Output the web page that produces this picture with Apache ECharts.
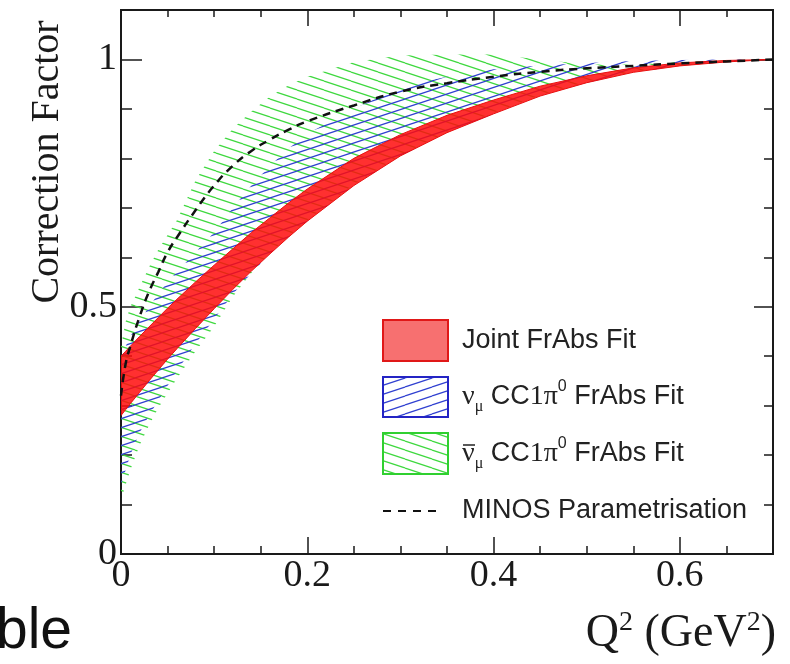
<!DOCTYPE html>
<html>
<head>
  <meta charset="UTF-8">
  <title>Correction Factor</title>
  <script src="https://cdn.jsdelivr.net/npm/echarts@6/dist/echarts.min.js"></script>
  <style>
    html, body { margin: 0; padding: 0; background: #fff; }
    #chart { width: 790px; height: 664px; }
  </style>
</head>
<body>
  <div id="chart"></div>
  <script>
    // Q2 grid shared by all curves
    const q = [0, 0.005, 0.01, 0.02, 0.03, 0.04, 0.05, 0.06, 0.08, 0.1, 0.12, 0.14, 0.16, 0.18, 0.2, 0.25, 0.3, 0.35, 0.4, 0.45, 0.5, 0.55, 0.6, 0.65, 0.7]

    const minos = [0.32, 0.385, 0.42, 0.48, 0.53, 0.57, 0.61, 0.64, 0.695, 0.745, 0.785, 0.815, 0.838, 0.858, 0.875, 0.907, 0.935, 0.952, 0.965, 0.975, 0.982, 0.987, 0.992, 0.996, 1.0]

    const jointLo = [0.28, 0.292, 0.304, 0.327, 0.35, 0.372, 0.394, 0.415, 0.456, 0.496, 0.535, 0.572, 0.607, 0.641, 0.673, 0.745, 0.805, 0.852, 0.89, 0.926, 0.953, 0.974, 0.987, 0.995, 1.0]
    const jointHi = [0.40, 0.41, 0.42, 0.44, 0.459, 0.478, 0.497, 0.515, 0.55, 0.584, 0.617, 0.65, 0.68, 0.71, 0.738, 0.80, 0.848, 0.887, 0.918, 0.946, 0.967, 0.983, 0.993, 0.998, 1.0]

    const numuLo = [0.14, 0.17, 0.2, 0.245, 0.28, 0.31, 0.34, 0.37, 0.425, 0.475, 0.525, 0.568, 0.607, 0.641, 0.673, 0.745, 0.805, 0.852, 0.89, 0.926, 0.953, 0.974, 0.987, 0.995, 1.0]
    const numuHi = [0.40, 0.42, 0.44, 0.47, 0.50, 0.525, 0.55, 0.57, 0.61, 0.65, 0.70, 0.745, 0.785, 0.82, 0.85, 0.90, 0.945, 0.965, 0.98, 0.988, 0.993, 0.997, 0.999, 1.0, 1.0]

    const nubarLo = [0.11, 0.14, 0.17, 0.22, 0.26, 0.295, 0.325, 0.355, 0.41, 0.46, 0.52, 0.568, 0.609, 0.643, 0.675, 0.747, 0.807, 0.854, 0.892, 0.928, 0.955, 0.975, 0.988, 0.996, 1.0]
    const nubarHi = [0.42, 0.47, 0.50, 0.54, 0.58, 0.615, 0.645, 0.675, 0.755, 0.815, 0.86, 0.895, 0.925, 0.948, 0.965, 0.995, 1.008, 1.01, 1.01, 1.0, 0.99, 0.99, 0.995, 0.998, 1.0]

    const xTicks = [0, 0.2, 0.4, 0.6]
    const yTicks = [0, 0.5, 1]

    function hatch(color, dir) {
      const c = document.createElement('canvas')
      c.width = 27
      c.height = 9
      const ctx = c.getContext('2d')
      ctx.strokeStyle = color
      ctx.lineWidth = 1.2
      for (let k = -1; k <= 1; k++) {
        ctx.beginPath()
        if (dir > 0) { ctx.moveTo(0, 9 + k * 9); ctx.lineTo(27, k * 9) }
        else { ctx.moveTo(0, k * 9); ctx.lineTo(27, 9 + k * 9) }
        ctx.stroke()
      }
      return { image: c, repeat: 'repeat' }
    }

    const bluePat = hatch('#2f3fd0', 1)
    const greenPat = hatch('#3ed83e', -1)

    // band between lo and hi, drawn as one polygon through the axes
    function band(name, lo, hi, fill, z, edge) {
      return {
        name: name, type: 'custom', xAxisIndex: 0, yAxisIndex: 0, z: z, silent: true, clip: true,
        data: [[q[0], lo[0]]],
        renderItem: (params, api) => {
          const top = q.map((x, i) => api.coord([x, hi[i]]))
          const bot = q.map((x, i) => api.coord([x, lo[i]])).reverse()
          return {
            type: 'polygon',
            shape: { points: top.concat(bot) },
            style: { fill: fill, stroke: edge || 'none', lineWidth: edge ? 1 : 0 }
          }
        }
      }
    }

    const serif = 'Liberation Serif'
    const sans = 'Liberation Sans'
    const black = '#1a1a1a'

    function xAx(grid, pos, interval, len, labels) {
      return {
        gridIndex: grid, type: 'value', position: pos, min: 0, max: 0.7, interval: interval,
        axisLine: { show: true, onZero: false, lineStyle: { color: black, width: 2 } },
        axisTick: { show: true, inside: true, length: len, lineStyle: { color: black, width: 1.5 } },
        axisLabel: {
          show: labels, showMaxLabel: false, margin: 3, fontFamily: serif, fontSize: 38, color: black,
          formatter: v => xTicks.includes(+v.toFixed(2)) ? String(+v.toFixed(2)) : ''
        },
        splitLine: { show: false }
      }
    }

    function yAx(grid, pos, interval, len, labels) {
      return {
        gridIndex: grid, type: 'value', position: pos, min: 0, max: 1.1, interval: interval,
        axisLine: { show: true, onZero: false, lineStyle: { color: black, width: 2 } },
        axisTick: { show: true, inside: true, length: len, lineStyle: { color: black, width: 1.5 } },
        axisLabel: {
          show: labels, showMaxLabel: false, margin: 4, fontFamily: serif, fontSize: 38, color: black,
          formatter: v => yTicks.includes(+v.toFixed(2)) ? String(+v.toFixed(2)) : ''
        },
        splitLine: { show: false }
      }
    }

    const chart = echarts.init(document.getElementById('chart'))
    const gridBox = { left: 121, right: 17, top: 10, bottom: 110 }

    const nuRich = {
      g: { fontFamily: serif, fontSize: 28, fill: '#222' },
      s: { fontFamily: serif, fontSize: 16, fill: '#222', verticalAlign: 'bottom' },
      p: { fontFamily: sans, fontSize: 16, fill: '#222', verticalAlign: 'top' }
    }

    const option = {
      animation: false,
      backgroundColor: '#fff',
      grid: [Object.assign({}, gridBox), Object.assign({}, gridBox)],
      xAxis: [
        xAx(0, 'bottom', 0.2, 17, true),
        xAx(0, 'top', 0.2, 16, false),
        xAx(1, 'bottom', 0.05, 8, false),
        xAx(1, 'top', 0.05, 7, false)
      ],
      yAxis: [
        yAx(0, 'left', 0.5, 21, true),
        yAx(0, 'right', 0.5, 19, false),
        yAx(1, 'left', 0.1, 11, false),
        yAx(1, 'right', 0.1, 9, false)
      ],
      series: [
        band('nubar', nubarLo, nubarHi, greenPat, 2, null),
        band('numu', numuLo, numuHi, bluePat, 3, null),
        band('joint', jointLo, jointHi, 'rgba(255,12,12,0.85)', 4, '#e81010'),
        {
          name: 'MINOS', type: 'line', symbol: 'none', smooth: true, z: 6,
          xAxisIndex: 0, yAxisIndex: 0, silent: true,
          lineStyle: { color: '#111', width: 2.5, type: [8, 6] },
          data: q.map((x, i) => [x, minos[i]])
        }
      ],
      graphic: {
        elements: [
          {
            type: 'text', x: 47, y: 162, rotation: Math.PI / 2, z: 100,
            style: { text: 'Correction Factor', fontFamily: serif, fontSize: 40, fill: black, align: 'center', verticalAlign: 'middle' }
          },
          {
            type: 'text', x: 776, y: 634, z: 100,
            style: {
              text: 'Q{p|2} (GeV{p|2})', fontFamily: serif, fontSize: 46, fill: black,
              align: 'right', verticalAlign: 'middle', lineHeight: 50,
              rich: { p: { fontFamily: serif, fontSize: 28, fill: black, verticalAlign: 'top', lineHeight: 30 } }
            }
          },
          {
            type: 'text', x: -4, y: 632, z: 100,
            style: { text: 'ble', fontFamily: sans, fontSize: 57, fill: '#111', align: 'left', verticalAlign: 'middle' }
          },
          // legend
          { type: 'rect', z: 100, shape: { x: 383, y: 320, width: 65, height: 41 }, style: { fill: '#f77070', stroke: '#e01818', lineWidth: 2 } },
          { type: 'rect', z: 100, shape: { x: 383, y: 377, width: 65, height: 40 }, style: { fill: bluePat, stroke: '#2424c4', lineWidth: 2 } },
          { type: 'rect', z: 100, shape: { x: 383, y: 433, width: 65, height: 41 }, style: { fill: greenPat, stroke: '#30d030', lineWidth: 2 } },
          { type: 'line', z: 100, shape: { x1: 383, y1: 511, x2: 442, y2: 511 }, style: { stroke: '#111', lineWidth: 2, lineDash: [8, 7] } },
          {
            type: 'text', x: 462, y: 341, z: 100,
            style: { text: 'Joint FrAbs Fit', fontFamily: sans, fontSize: 27, fill: '#222', verticalAlign: 'middle' }
          },
          {
            type: 'text', x: 462, y: 397, z: 100,
            style: {
              text: '{g|ν}{s|μ} CC{g|1π}{p|0} FrAbs Fit', fontFamily: sans, fontSize: 27, fill: '#222',
              verticalAlign: 'middle', lineHeight: 36, rich: nuRich
            }
          },
          {
            type: 'text', x: 462, y: 454, z: 100,
            style: {
              text: '{g|ν}{s|μ} CC{g|1π}{p|0} FrAbs Fit', fontFamily: sans, fontSize: 27, fill: '#222',
              verticalAlign: 'middle', lineHeight: 36, rich: nuRich
            }
          },
          // bar over the anti-neutrino symbol
          { type: 'line', z: 100, shape: { x1: 463, y1: 445, x2: 475, y2: 445 }, style: { stroke: '#222', lineWidth: 1.5 } },
          {
            type: 'text', x: 462, y: 511, z: 100,
            style: { text: 'MINOS Parametrisation', fontFamily: sans, fontSize: 27, fill: '#222', verticalAlign: 'middle' }
          }
        ]
      }
    }

    chart.setOption(option)
  </script>
</body>
</html>
